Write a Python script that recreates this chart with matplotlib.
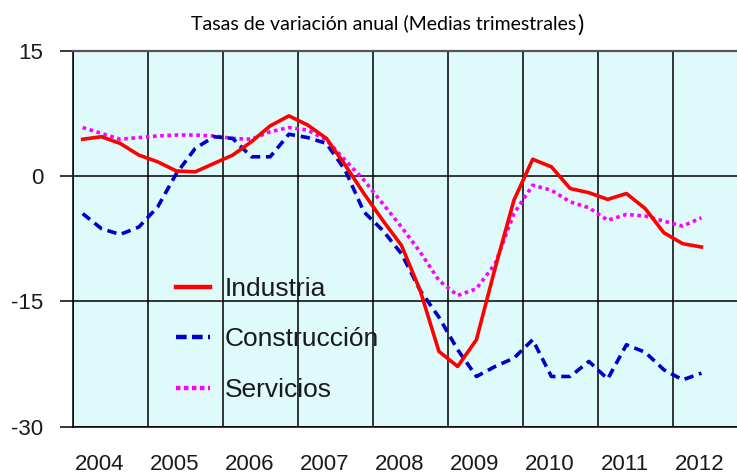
import matplotlib
matplotlib.use("Agg")
import matplotlib.pyplot as plt
from matplotlib.lines import Line2D
import numpy as np

years = ["2004", "2005", "2006", "2007", "2008", "2009", "2010", "2011", "2012"]
series_names = ["Industria", "Construcción", "Servicios"]

industria = [4.4, 4.7, 3.9, 2.5, 1.7, 0.6, 0.5, 1.5, 2.5, 4.1, 6.0, 7.2,
             6.1, 4.5, 1.3, -2.1, -5.3, -8.3, -13.7, -21.0, -22.8, -19.6, -11.0, -2.9,
             2.0, 1.1, -1.5, -2.0, -2.8, -2.1, -3.9, -6.8, -8.1, -8.5]
construccion = [-4.5, -6.3, -7.0, -6.1, -3.7, 0.3, 3.3, 4.7, 4.5, 2.3, 2.3, 5.0,
                4.6, 3.9, 0.7, -4.3, -6.5, -9.3, -13.7, -16.9, -20.8, -24.0, -22.8, -21.8,
                -19.6, -24.0, -24.0, -22.2, -24.3, -20.2, -21.1, -23.2, -24.4, -23.6]
servicios = [5.8, 5.1, 4.4, 4.6, 4.8, 4.9, 4.9, 4.8, 4.5, 4.4, 5.3, 5.8,
             5.5, 4.3, 1.9, -0.5, -3.3, -6.1, -9.1, -12.5, -14.3, -13.5, -10.5, -4.5,
             -1.1, -1.7, -3.1, -3.8, -5.3, -4.6, -4.8, -5.4, -6.0, -5.0]
yticks = [15, 0, -15, -30]

W, H = 737, 474
fig = plt.figure(figsize=(W / 100, H / 100), dpi=100)
plt.rcParams['font.family'] = ['Liberation Sans', 'DejaVu Sans']

ax_left, ax_right = 73.3, 748.3
ax_top, ax_bot = 50.7, 426.6
ax = fig.add_axes([ax_left / W, 1 - ax_bot / H, (ax_right - ax_left) / W, (ax_bot - ax_top) / H])
ax.set_facecolor('#DFFAFB')

x = np.arange(len(industria))
ax.plot(x, industria, color='#FF0000', lw=2.6, solid_joinstyle='round', zorder=5)
ax.plot(x, construccion, color='#0000C8', lw=2.6, dashes=(2.6, 1.6), zorder=4)
ax.plot(x, servicios, color='#FF00FF', lw=2.6, dashes=(1.0, 1.0), zorder=3)

ax.set_xlim(-0.5, 4 * len(years) - 0.5)
ax.set_ylim(-30, 15)

# year boundaries (gridlines) and year labels
ax.set_xticks([4 * k - 0.5 for k in range(len(years) + 1)])
ax.set_xticklabels([])
ax.tick_params(axis='x', which='major', length=0)
ax.set_xticks([4 * k + 0.9 for k in range(len(years))], minor=True)
ax.set_xticklabels(years, minor=True, fontsize=16, color='#1a1a1a')
ax.tick_params(axis='x', which='minor', length=0, pad=20)

ax.set_yticks(yticks)
ax.set_yticklabels([str(v) for v in yticks], fontsize=16, color='#1a1a1a')
ax.tick_params(axis='y', length=9.5, width=1.1, color='black', pad=12)

ax.grid(True, which='major', color='black', lw=1.1, zorder=1)
ax.set_axisbelow(True)
for s in ['left', 'bottom']:
    ax.spines[s].set_color('black')
    ax.spines[s].set_linewidth(1.1)
ax.spines['top'].set_color('#555555')
ax.spines['top'].set_linewidth(1.6)
ax.spines['right'].set_visible(False)

handles = [Line2D([], [], color='#FF0000', lw=3.2),
           Line2D([], [], color='#0000C8', lw=3.2, dashes=(2.4, 1.2)),
           Line2D([], [], color='#FF00FF', lw=3.2, dashes=(1.0, 0.8))]
leg = ax.legend(handles, series_names, loc='upper left',
                bbox_to_anchor=((176 - ax_left) / (ax_right - ax_left), (ax_bot - 277) / (ax_bot - ax_top)),
                frameon=False, fontsize=19, handlelength=1.3, handletextpad=0.55,
                labelspacing=1.0, borderpad=0, borderaxespad=0)
for t in leg.get_texts():
    t.set_color('#1a1a1a')

# title with larger closing parenthesis
title_main = "Tasas de variación anual (Medias trimestrales"
t1 = fig.text(576.7 / W, 1 - 29.5 / H, title_main, ha='right', va='baseline',
              fontsize=13, family=['Lato', 'DejaVu Sans'], color='black')
fig.canvas.draw()
bb = t1.get_window_extent()
target = 576.7 - 191.7
t1.set_fontsize(13 * target / bb.width)
fig.text(577.5 / W, 1 - 31.5 / H, ")", ha='left', va='baseline',
         fontsize=17, family=['Lato', 'DejaVu Sans'], color='black')

fig.savefig('out.png', dpi=100)
